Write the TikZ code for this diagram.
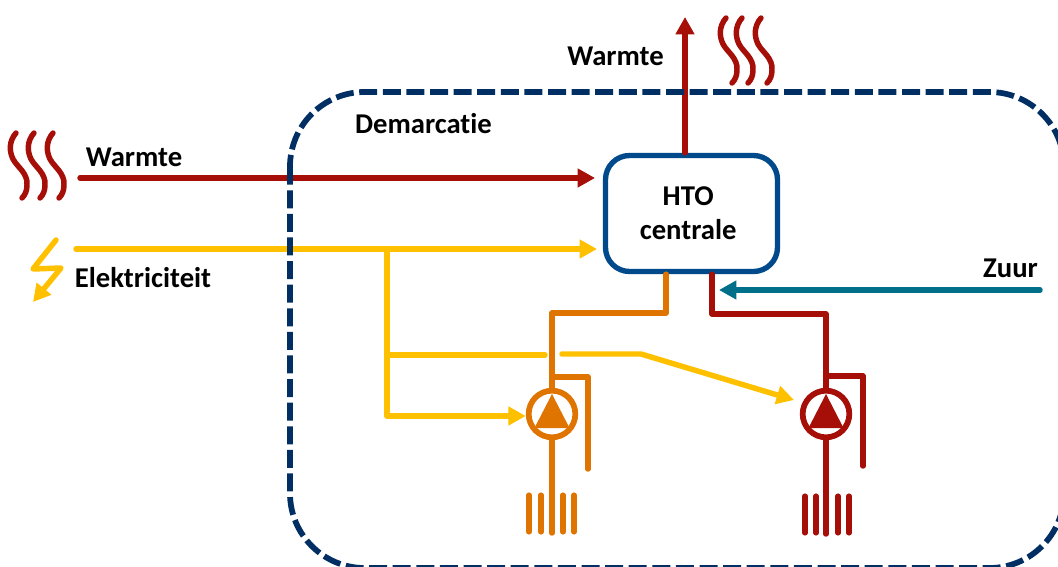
\documentclass[tikz,border=0pt]{standalone}
\usepackage{fontspec}
\setmainfont[Ligatures=NoCommon]{Carlito}
\usepackage{xcolor}
\usetikzlibrary{arrows.meta}
\definecolor{warmred}{HTML}{A50F08}
\definecolor{pumporange}{HTML}{E07400}
\definecolor{elecyellow}{HTML}{FFC000}
\definecolor{acidteal}{HTML}{00708A}
\definecolor{demarcblue}{HTML}{022F63}
\definecolor{htoblue}{HTML}{004A8C}
\begin{document}
\begin{tikzpicture}
        [ x=0.75pt, y=-0.75pt,
          every node/.style = {font=\fontsize{21.5}{25.5}\selectfont\bfseries, text=black},
          flow/.style = {line width=4.1pt, line cap=round, line join=round},
          tipped/.style = {flow, -{Triangle[length=13pt,width=13.5pt]}},
          htobox node/.style = {draw=htoblue, line width=4pt, rounded corners=18pt,
                                minimum width=129pt, minimum height=87pt, align=center, fill=white},
          pump node/.style = {circle, draw, fill=white, line width=4.3pt, minimum size=35pt, inner sep=0pt},
          demarcation/.style = {draw=demarcblue, line width=4.3pt, rounded corners=56pt,
                                dash pattern=on 13.5pt off 4.2pt}]
        \useasboundingbox (0,0) rectangle (1058,567);
        \clip (0,0) rectangle (1058,567);
        \node[htobox node] (hto) at (691.5,213.5) {HTO\hspace*{5pt}\\centrale\hspace*{5pt}};
        \node[pump node, draw=pumporange] (pumpA) at (552,414) {};
        \node[pump node, draw=warmred] (pumpB) at (826,414) {};
        \fill[pumporange] (pumpA) ++(0,-20) -- ++(17.5,34) -- ++(-35,0) -- cycle;
        \fill[warmred] (pumpB) ++(0,-20) -- ++(17.5,34) -- ++(-35,0) -- cycle;
        % labels
        \node (warmteIn) at (134,157) {Warmte};
        \node (warmteOut) at (615.5,56) {Warmte};
        \node (demarcatie) at (423.5,124) {Demarcatie};
        \node (elektriciteit) at (143,278) {Elektriciteit};
        \node (zuur) at (1010.5,268) {Zuur};
        % free ends
        \coordinate (warmteStart) at (80,178);
        \coordinate (warmteEnd) at (595,178);
        \coordinate (warmteTop) at (685,17);
        \coordinate (elecStart) at (76,249);
        \coordinate (elecEnd) at (597,249);
        \coordinate (elecSplit) at (387,249);
        \coordinate (pumpBTip) at (794,400);
        \coordinate (zuurStart) at (1040,290);
        \coordinate (zuurEnd) at (719,290);
        % heat and acid
        \draw[tipped, warmred] (warmteStart) -- (warmteEnd);
        \draw[tipped, warmred] (685,0 |- hto.north) -- (warmteTop);
        \draw[tipped, acidteal] (zuurStart) -- (zuurEnd);
        % electricity
        \draw[tipped, elecyellow] (elecStart) -- (elecEnd);
        \draw[tipped, elecyellow] (elecSplit) |- ([yshift=-1.5pt]pumpA.west);
        \draw[flow, elecyellow] (387,355) -- (545,355);
        \draw[tipped, elecyellow] (562,354) -- (641,354) -- (pumpBTip);
        \draw[tipped, elecyellow] (56,240) -- (33,269) -- (61,268) -- (33,302);
        % orange loop
        \draw[flow, pumporange] (666,0 |- hto.south) |- (552,313) -- (pumpA.north);
        \draw[flow, pumporange] (552,377) -| (588,469);
        \draw[flow, pumporange] (pumpA.south) -- (552,533);
        \foreach \xfin in {529,541,563,574}
            \draw[flow, line width=3.8pt, pumporange] (\xfin,495) -- (\xfin,532);
        % red loop
        \draw[flow, warmred] (712,0 |- hto.south) |- (826,314) -- (pumpB.north);
        \draw[flow, warmred] (826,376) -| (863,466);
        \draw[flow, warmred] (pumpB.south) -- (826,534);
        \foreach \xfin in {805,816,838,849}
            \draw[flow, line width=3.8pt, warmred] (\xfin,496) -- (\xfin,533);
        % heat waves
        \foreach \xwave/\ywave in {16/133,34/133,53/133,726/18,742/18,761/18}
            \draw[flow, warmred, shift={(\xwave,\ywave)}] (0,0) .. controls (-7,8) and (-7,18) .. (-3,26)
                .. controls (1,34) and (12,40) .. (11,52)
                .. controls (11,58) and (9,62) .. (6,65);
        \draw[demarcation] (290,92) rectangle (1064,568);
    \end{tikzpicture}
\end{document}
